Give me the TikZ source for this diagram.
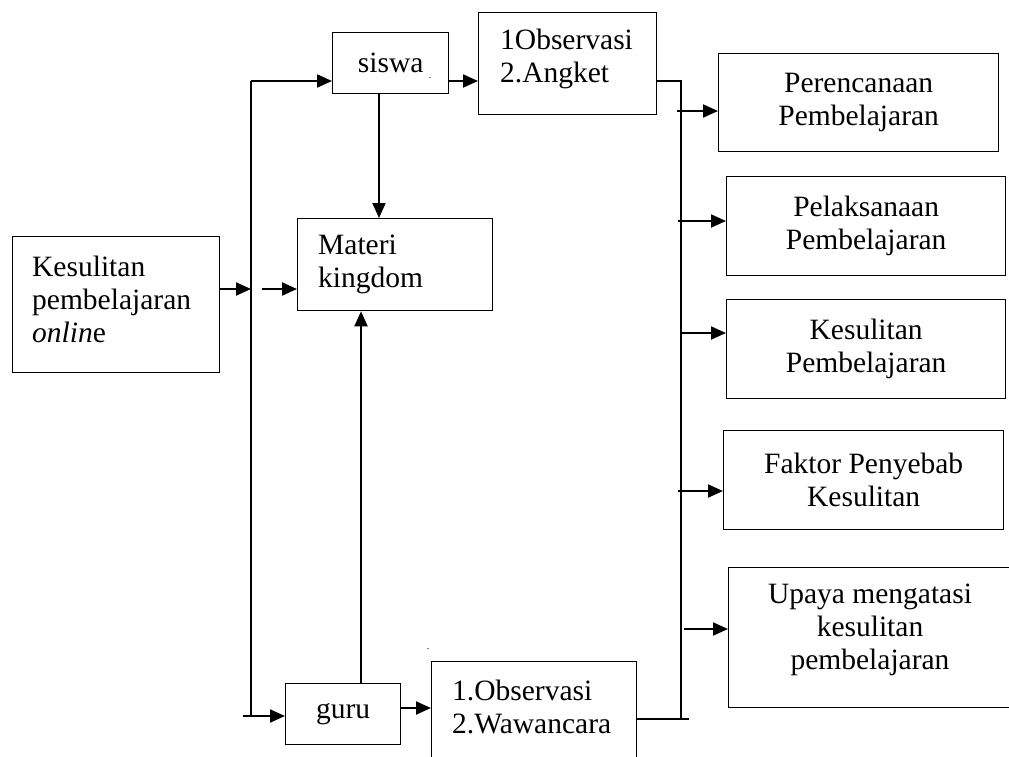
\documentclass[tikz,border=0pt]{standalone}
\usepackage{fontspec}
\setmainfont{Liberation Serif}
\usetikzlibrary{arrows.meta,calc}
\begin{document}
\begin{tikzpicture}[x=1pt,y=-1pt,
  box/.style={draw, line width=1.3pt, rectangle, anchor=north west, inner sep=0pt,
    font=\fontsize{29.5}{33}\selectfont, align=center},
  txt/.style={font=\fontsize{29.5}{33}\selectfont, inner sep=0pt, align=left, anchor=west},
  ctxt/.style={font=\fontsize{29.5}{33}\selectfont, inner sep=0pt, align=center},
  con/.style={line width=2pt},
  arr/.style={line width=2pt, -{Triangle[length=15pt,width=13pt]}},
  dotmark/.style={font=\fontsize{10}{10}\selectfont, inner sep=0pt}]
\useasboundingbox (0,0) rectangle (1009,756);
\clip (0,0) rectangle (1009,756);

% boxes
\node[box, minimum width=207, minimum height=136] (ks) at (12,236) {};
\node[txt] (kst) at (32,299) {Kesulitan\\pembelajaran\\\textit{onlin}e};

\node[box, minimum width=116, minimum height=61] (siswa) at (332,32) {siswa};
\node[box, minimum width=195, minimum height=92] (materi) at (297,218) {};
\node[txt] (materit) at (318,264) {Materi\\kingdom};

\node[box, minimum width=178, minimum height=102] (obs1) at (478,12) {};
\node[txt] (obs1t) at (500,59) {1Observasi\\2.Angket};

\node[box, minimum width=115, minimum height=61] (guru) at (285,683) {guru};
\node[box, minimum width=205, minimum height=140] (obs2) at (431,661) {};
\node[txt] (obs2t) at (452,707) {1.Observasi\\2.Wawancara};

\node[box, minimum width=280, minimum height=98] (p1) at (718,53) {Perencanaan\\Pembelajaran};
\node[box, minimum width=279, minimum height=99] (p2) at (726,176) {Pelaksanaan\\Pembelajaran};
\node[box, minimum width=279, minimum height=99] (p3) at (726,299) {Kesulitan\\Pembelajaran};
\node[box, minimum width=280, minimum height=99] (p4) at (723,430) {Faktor Penyebab\\Kesulitan};
\node[box, minimum width=284, minimum height=140] (p5) at (728,567) {};
\node[ctxt] (p5t) at (870,630) {Upaya mengatasi\\kesulitan\\pembelajaran};

% stray dots
\node[dotmark] (d1) at (430,78) {.};
\node[dotmark] (d2) at (428,649) {.};

% left bus
\coordinate (LT) at (251,81);
\coordinate (LB) at (251,716);
\coordinate (LB0) at (243,716);
\coordinate (K1) at (262,289);
\draw[con] (LT) -- (LB);
\draw[arr] (LT) -- (siswa.west |- LT);
\draw[arr] (LB0) -- (guru.west |- LB0);
\draw[arr] (ks.east |- K1) -- (LT |- K1);
\draw[arr] (K1) -- (materi.west |- K1);

% vertical arrows into Materi
\coordinate (S1) at (379,0);
\coordinate (G1) at (361,0);
\draw[arr] (siswa.south -| S1) -- (materi.north -| S1);
\draw[arr] (guru.north -| G1) -- (materi.south -| G1);

% to observation boxes
\coordinate (G2) at (0,708);
\draw[arr] (siswa.east |- LT) -- (obs1.west |- LT);
\draw[arr] (guru.east |- G2) -- (obs2.west |- G2);

% right bus
\coordinate (RT) at (681,81);
\coordinate (RB) at (681,719);
\coordinate (RB2) at (689,719);
\draw[con, line join=miter] (obs1.east |- RT) -- (RT) -- (RB);
\draw[con] (obs2.east |- RB) -- (RB2);

\coordinate (A1) at (677,111);
\coordinate (A2) at (678,221);
\coordinate (A3) at (680,333);
\coordinate (A4) at (678,491);
\coordinate (A5) at (684,629);
\draw[arr] (A1) -- (p1.west |- A1);
\draw[arr] (A2) -- (p2.west |- A2);
\draw[arr] (A3) -- (p3.west |- A3);
\draw[arr] (A4) -- (p4.west |- A4);
\draw[arr] (A5) -- (p5.west |- A5);
\end{tikzpicture}
\end{document}
